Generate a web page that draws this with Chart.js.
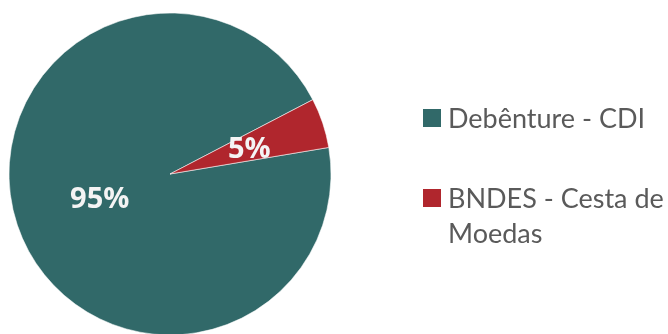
<!DOCTYPE html>
<html>
<head>
<meta charset="utf-8">
<script src="https://cdn.jsdelivr.net/npm/chart.js@4.4.1/dist/chart.umd.min.js"></script>
<style>
  html, body { margin: 0; padding: 0; background: #ffffff; }
  #wrap { width: 668px; height: 334px; position: relative; }
</style>
</head>
<body>
<div id="wrap"><canvas id="c" width="668" height="334"></canvas></div>
<script>
// ---- data ----
const categories = ["Debênture - CDI", "BNDES - Cesta de Moedas"];
const legendLines = [["Debênture - CDI"], ["BNDES - Cesta de", "Moedas"]];
const shares = [95, 5];
const valueLabels = ["95%", "5%"];
const sliceColors = ["#316969", "#B0262D"];

const sliceLabelPlugin = {
  id: 'sliceLabels',
  afterDatasetsDraw(chart) {
    const ctx = chart.ctx;
    const meta = chart.getDatasetMeta(0);
    ctx.save();
    ctx.fillStyle = '#F4F4F4';
    ctx.font = 'bold 29px "Open Sans", sans-serif';
    ctx.textAlign = 'center';
    ctx.textBaseline = 'alphabetic';
    const fracs = [0.46, 0.52];
    meta.data.forEach((arc, i) => {
      const p = arc.getProps(['x', 'y', 'startAngle', 'endAngle', 'outerRadius'], true);
      const mid = (p.startAngle + p.endAngle) / 2;
      const r = p.outerRadius * fracs[i];
      const m = ctx.measureText(valueLabels[i]);
      const off = (m.actualBoundingBoxAscent - m.actualBoundingBoxDescent) / 2;
      ctx.fillText(valueLabels[i], p.x + Math.cos(mid) * r, p.y + Math.sin(mid) * r + off);
    });
    ctx.restore();
  }
};

const sideLegendPlugin = {
  id: 'sideLegend',
  afterDraw(chart) {
    const ctx = chart.ctx;
    ctx.save();
    const boxX = 423, textX = 448, box = 18, lineH = 35;
    const rowMid = [118, 198];
    ctx.font = '27px Lato, sans-serif';
    ctx.textBaseline = 'alphabetic';
    ctx.textAlign = 'left';
    const capOff = ctx.measureText('D').actualBoundingBoxAscent / 2;
    legendLines.forEach((lines, i) => {
      const y = rowMid[i];
      ctx.fillStyle = sliceColors[i];
      ctx.fillRect(boxX, y - box / 2, box, box);
      ctx.fillStyle = '#5A5A5A';
      lines.forEach((t, j) => ctx.fillText(t, textX, y + j * lineH + capOff));
    });
    ctx.restore();
  }
};

new Chart(document.getElementById('c'), {
  type: 'pie',
  data: {
    labels: categories,
    datasets: [{
      data: shares,
      backgroundColor: sliceColors,
      borderColor: 'rgba(255,255,255,0.55)',
      borderWidth: 1,
      radius: 161,
      rotation: 80.5
    }]
  },
  options: {
    responsive: false,
    animation: false,
    layout: { padding: { left: 8, right: 336, top: 16, bottom: 2 } },
    plugins: {
      legend: { display: false },
      tooltip: { enabled: false }
    }
  },
  plugins: [sliceLabelPlugin, sideLegendPlugin]
});
</script>
</body>
</html>
